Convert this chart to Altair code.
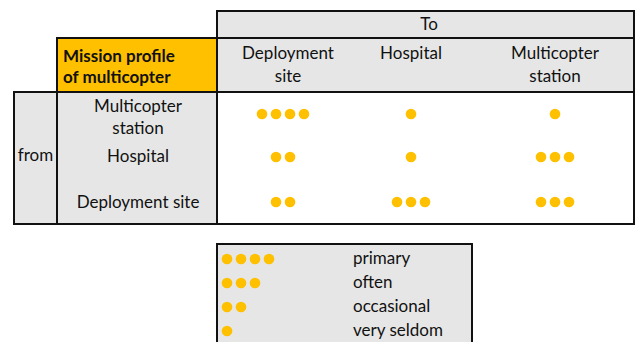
import altair as alt
import pandas as pd

# ---------------- data ----------------
from_lines = [["Multicopter", "station"], ["Hospital"], ["Deployment site"]]
to_lines = [["Deployment", "site"], ["Hospital"], ["Multicopter", "station"]]
# number of dots: rows = from, columns = to
frequency = [
    [4, 1, 1],
    [2, 1, 3],
    [2, 3, 3],
]
legend_levels = [4, 3, 2, 1]
legend_labels = ["primary", "often", "occasional", "very seldom"]
title_from = "from"
title_to = "To"
corner_lines = ["Mission profile", "of multicopter"]

# ---------------- layout (pixel grid of the page) ----------------
X_EDGES = [14, 57, 217, 634]
Y_EDGES = [11, 38, 92, 224]
COL_CENTERS = [283, 411, 555]
ROW_CENTERS = [114, 157, 202]
ROW_LABEL_X = 138
ROW_LINE_Y = [[107, 129], [157], [203]]
COL_LINE_Y = [54, 77]
DOT_STEP = 14
LEG = dict(x=217, x2=472, y=244, y2=360)
LEG_DOT_X = 227
LEG_ROW_Y = [259, 283, 307, 331]
LEG_TEXT_X = 353
GREY = "#e6e6e6"
ORANGE = "#ffc000"
INK = "#111111"
FONT = "Lato"
FS = 17

rects = pd.DataFrame([
    dict(x=X_EDGES[2], x2=X_EDGES[3], y=Y_EDGES[0], y2=Y_EDGES[1], fill=GREY),
    dict(x=X_EDGES[2], x2=X_EDGES[3], y=Y_EDGES[1], y2=Y_EDGES[2], fill=GREY),
    dict(x=X_EDGES[1], x2=X_EDGES[2], y=Y_EDGES[1], y2=Y_EDGES[2], fill=ORANGE),
    dict(x=X_EDGES[0], x2=X_EDGES[1], y=Y_EDGES[2], y2=Y_EDGES[3], fill=GREY),
    dict(x=X_EDGES[1], x2=X_EDGES[2], y=Y_EDGES[2], y2=Y_EDGES[3], fill=GREY),
    dict(x=X_EDGES[2], x2=X_EDGES[3], y=Y_EDGES[2], y2=Y_EDGES[3], fill="#ffffff"),
])
legend_rect = pd.DataFrame([dict(LEG, fill=GREY)])

dots = []
for r, row in enumerate(frequency):
    for c, n in enumerate(row):
        for i in range(n):
            dots.append(dict(x=COL_CENTERS[c] + (i - (n - 1) / 2) * DOT_STEP, y=ROW_CENTERS[r]))
for k, n in enumerate(legend_levels):
    for i in range(n):
        dots.append(dict(x=LEG_DOT_X + i * DOT_STEP, y=LEG_ROW_Y[k]))
dots = pd.DataFrame(dots)

center_text = []
for r, lines in enumerate(from_lines):
    for j, t in enumerate(lines):
        center_text.append(dict(x=ROW_LABEL_X, y=ROW_LINE_Y[r][j], t=t))
for c, lines in enumerate(to_lines):
    for j, t in enumerate(lines):
        center_text.append(dict(x=COL_CENTERS[c] + (5 if c == 0 else 0), y=COL_LINE_Y[j], t=t))
center_text.append(dict(x=429, y=25, t=title_to))
center_text.append(dict(x=(X_EDGES[0] + X_EDGES[1]) / 2, y=156, t=title_from))
center_text = pd.DataFrame(center_text)

corner_text = pd.DataFrame([dict(x=63, y=COL_LINE_Y[j] + 3 - 2 * j, t=t) for j, t in enumerate(corner_lines)])
legend_text = pd.DataFrame([dict(x=LEG_TEXT_X, y=LEG_ROW_Y[k], t=t) for k, t in enumerate(legend_labels)])

xs = alt.Scale(domain=[8, 635], nice=False, zero=False)
ys = alt.Scale(domain=[8, 342], nice=False, zero=False, reverse=True)
X = lambda: alt.X("x:Q", scale=xs, axis=None)
Y = lambda: alt.Y("y:Q", scale=ys, axis=None)

rect_layer = alt.Chart(rects).mark_rect(stroke=INK, strokeWidth=2).encode(
    x=X(), x2="x2:Q", y=Y(), y2="y2:Q", fill=alt.Fill("fill:N", scale=None)
)
leg_layer = alt.Chart(legend_rect).mark_rect(stroke=INK, strokeWidth=2, clip=True).encode(
    x=X(), x2="x2:Q", y=Y(), y2="y2:Q", fill=alt.Fill("fill:N", scale=None)
)
dot_layer = alt.Chart(dots).mark_circle(size=113, color=ORANGE, opacity=1).encode(x=X(), y=Y())
ctext = alt.Chart(center_text).mark_text(font=FONT, fontSize=FS, color=INK, align="center", baseline="middle").encode(
    x=X(), y=Y(), text="t:N")
btext = alt.Chart(corner_text).mark_text(font=FONT, fontSize=FS, fontWeight="bold", color=INK, align="left", baseline="middle").encode(
    x=X(), y=Y(), text="t:N")
ltext = alt.Chart(legend_text).mark_text(font=FONT, fontSize=FS, color=INK, align="left", baseline="middle").encode(
    x=X(), y=Y(), text="t:N")

chart = alt.layer(rect_layer, leg_layer, dot_layer, ctext, btext, ltext).properties(
    width=627, height=334, padding=0, autosize="none"
).configure_view(stroke=None)

chart.save("out.html", embed_options={"renderer": "svg", "actions": False})
